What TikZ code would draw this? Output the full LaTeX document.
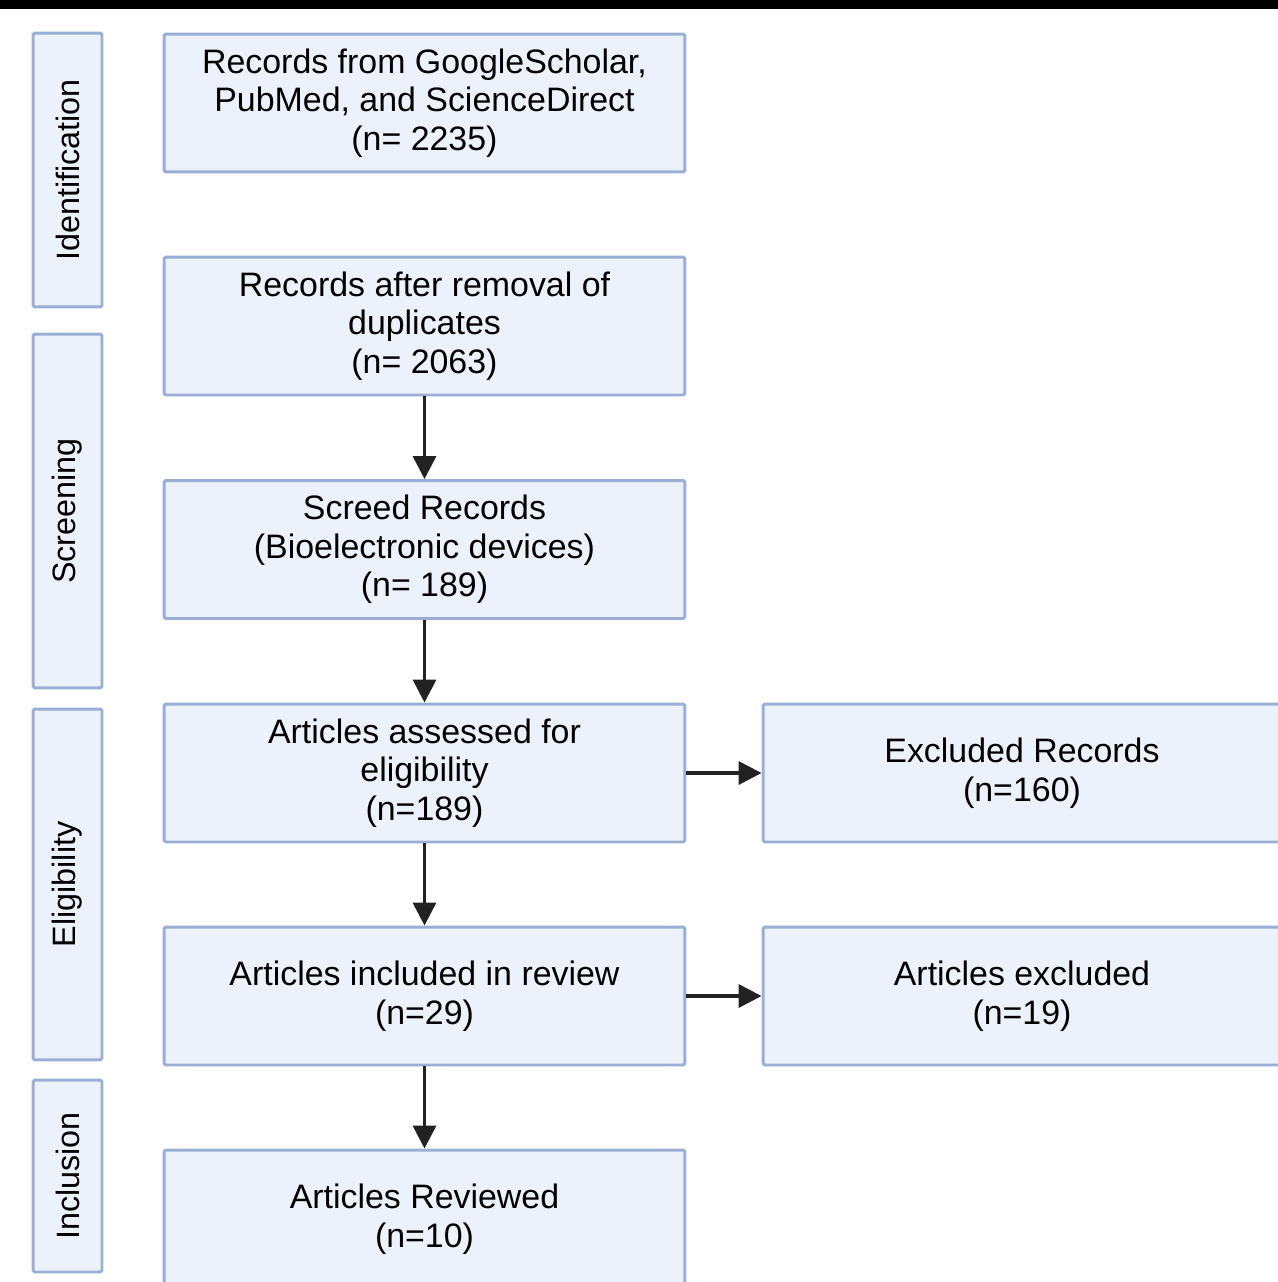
\documentclass[tikz,border=0pt]{standalone}
\usepackage{fontspec}
\setmainfont{Liberation Sans}
\usetikzlibrary{arrows.meta}
\definecolor{boxfill}{HTML}{ECF2FB}
\definecolor{boxline}{HTML}{9AAED6}
\definecolor{arrowgray}{HTML}{222222}
\begin{document}
\begin{tikzpicture}[x=0.02cm,y=-0.02cm]
		\tikzset{stepbox/.style = {shape=rectangle,draw=boxline,fill=boxfill,line width=1.7pt,rounded corners=1pt,minimum width=10.42cm,minimum height=2.76cm,align=center,font=\fontsize{19.3}{22}\selectfont,text=black}}
		\tikzset{stage/.style = {shape=rectangle,draw=boxline,fill=boxfill,line width=1.7pt,rounded corners=1pt,minimum height=1.38cm,rotate=90,font=\fontsize{18.4}{20}\selectfont,text=black}}
		\tikzset{flow/.style = {-{Triangle[width=13pt,length=13pt]},line width=2pt,draw=arrowgray}}
		\clip (0,0) rectangle (1278,1282);
		\fill[white] (0,0) rectangle (1278,1282);
		\fill[black] (0,0) rectangle (1278,9);
		% stages
		\node[stage,minimum width=5.48cm] (ident) at (67.5,170) {Identification};
		\node[stage,minimum width=7.08cm] (screen) at (67.5,511) {Screening};
		\node[stage,minimum width=7.02cm] (elig) at (67.5,884.5) {Eligibility};
		\node[stage,minimum width=3.84cm] (incl) at (67.5,1176) {Inclusion};
		% main column
		\node[stepbox] (records) at (424.5,103) {Records from GoogleScholar,\\PubMed, and ScienceDirect\\(n= 2235)};
		\node[stepbox] (dedup) at (424.5,326) {Records after removal of\\duplicates\\(n= 2063)};
		\node[stepbox] (screened) at (424.5,549.5) {Screed Records\\(Bioelectronic devices)\\(n= 189)};
		\node[stepbox] (assessed) at (424.5,773) {Articles assessed for\\eligibility\\(n=189)};
		\node[stepbox] (included) at (424.5,996) {Articles included in review\\(n=29)};
		\node[stepbox] (reviewed) at (424.5,1219) {Articles Reviewed\\(n=10)};
		% exclusions
		\node[stepbox,minimum width=10.36cm] (exclrec) at (1022,773) {Excluded Records\\(n=160)};
		\node[stepbox,minimum width=10.36cm] (exclart) at (1022,996) {Articles excluded\\(n=19)};
		% arrows
		\draw[flow] (dedup) -- (screened);
		\draw[flow] (screened) -- (assessed);
		\draw[flow] (assessed) -- (included);
		\draw[flow] (included) -- (reviewed);
		\draw[flow] (assessed) -- (exclrec);
		\draw[flow] (included) -- (exclart);
	\end{tikzpicture}
\end{document}
